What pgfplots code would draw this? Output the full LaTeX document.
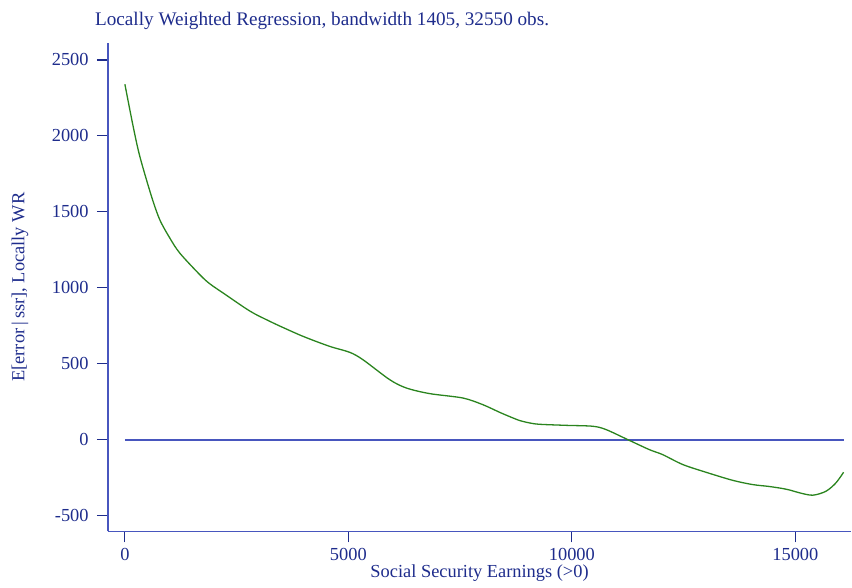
\documentclass[border=0pt]{standalone}
\usepackage{fontspec}
\setmainfont{Liberation Serif}
\usepackage{pgfplots}
\pgfplotsset{compat=1.18}
\definecolor{stnavy}{RGB}{30,44,140}
\definecolor{stline}{RGB}{72,86,190}
\definecolor{stgreen}{RGB}{42,132,30}
\begin{document}
\fontsize{18.4bp}{22bp}\selectfont
\begin{tikzpicture}
\begin{axis}[
    scale only axis,
    width=744bp, height=489bp,
    xmin=-380, xmax=16249,
    ymin=-605, ymax=2612,
    axis x line=bottom, axis y line=left,
    axis line style={-, draw=stline, line width=1.6bp},
    tick align=outside,
    major tick length=11bp,
    tick style={draw=stnavy, line width=1.1bp},
    scaled x ticks=false, scaled y ticks=false,
    xtick={0,5000,10000,15000},
    xticklabels={0,5000,10000,15000},
    ytick={-500,0,500,1000,1500,2000,2500},
    yticklabels={-500,0,500,1000,1500,2000,2500},
    ticklabel style={text=stnavy},
    yticklabel style={xshift=-2bp},
    xticklabel style={yshift=1bp},
    xlabel={Social Security Earnings (>0)},
    ylabel={E[error\,|\,ssr], Locally WR},
    xlabel style={text=stnavy, at={(axis description cs:0.5,0)}, anchor=center, yshift=-42bp},
    ylabel style={text=stnavy, at={(axis description cs:0,0.5)}, anchor=center, yshift=88bp},
    clip=false,
    ]
\addplot[draw=stline, line width=2bp] coordinates {(0,0) (16078,0)};
\addplot[draw=stgreen, line width=1.3bp, smooth, tension=0.5] coordinates {
(0,2340) (186,2061) (335,1864) (596,1601) (782,1447) (1006,1327) (1229,1228)
(1676,1086) (1900,1026) (2235,958) (2682,868) (2906,828) (3200,785) (3465,748) (3986,680)
(4582,614) (5029,575) (5327,526) (5923,395) (6296,340) (6817,303) (7562,274)
(8009,230) (8382,180) (8605,152) (8829,126) (9052,110) (9276,101) (9872,94)
(10468,88) (10766,66) (11250,0) (11734,-66) (12033,-99) (12480,-164) (13001,-215)
(13597,-268) (14044,-296) (14400,-308) (14715,-322) (14900,-334) (15088,-350)
(15386,-366) (15684,-340) (15907,-285) (16078,-215)
};
\node[anchor=base west, text=stnavy, inner sep=0pt, font=\fontsize{19.2bp}{23bp}\selectfont]
  at ([xshift=-13bp,yshift=17bp]rel axis cs:0,1)
  {Locally Weighted Regression, bandwidth 1405, 32550 obs.};
\path ([xshift=-108bp,yshift=-53bp]rel axis cs:0,0) rectangle ([yshift=43bp]rel axis cs:1,1);
\end{axis}
\end{tikzpicture}
\end{document}
